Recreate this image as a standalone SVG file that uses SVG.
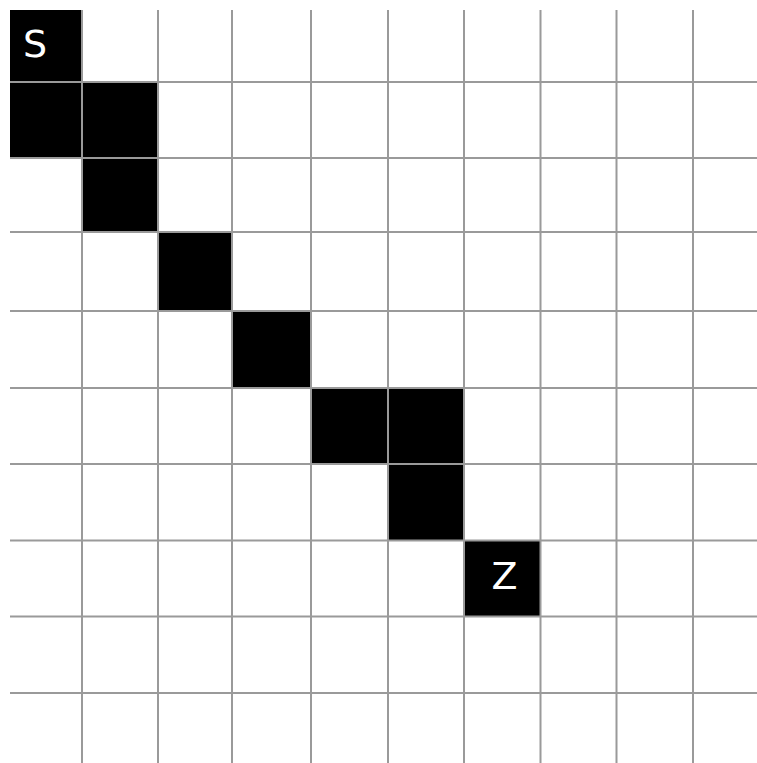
<svg xmlns="http://www.w3.org/2000/svg" width="757" height="763" viewBox="0 0 757 763">
<style>
.cell{fill:#000}
.grid line{stroke:#9a9a9a;stroke-width:2}
.lbl{fill:#fff;font-family:"DejaVu Sans",sans-serif;font-size:38px;text-anchor:middle}
</style>
<rect x="0" y="0" width="757" height="763" fill="#fff"/>
<g id="cells">
<g id="cell-S"><rect class="cell" x="10" y="10" width="72" height="72"/><text class="lbl" x="35" y="56.5">S</text></g>
<g id="cell-1-0"><rect class="cell" x="10" y="82" width="72" height="76"/></g>
<g id="cell-1-1"><rect class="cell" x="82" y="82" width="76" height="76"/></g>
<g id="cell-2-1"><rect class="cell" x="82" y="158" width="76" height="74"/></g>
<g id="cell-3-2"><rect class="cell" x="158" y="232" width="74" height="79"/></g>
<g id="cell-4-3"><rect class="cell" x="232" y="311" width="79" height="77"/></g>
<g id="cell-5-4"><rect class="cell" x="311" y="388" width="77" height="76"/></g>
<g id="cell-5-5"><rect class="cell" x="388" y="388" width="76" height="76"/></g>
<g id="cell-6-5"><rect class="cell" x="388" y="464" width="76" height="76.5"/></g>
<g id="cell-Z"><rect class="cell" x="464" y="540.5" width="76.5" height="76"/><text class="lbl" x="504.5" y="589">Z</text></g>
</g>
<g id="connectors" class="grid">
<line x1="82" y1="10" x2="82" y2="763"/>
<line x1="158" y1="10" x2="158" y2="763"/>
<line x1="232" y1="10" x2="232" y2="763"/>
<line x1="311" y1="10" x2="311" y2="763"/>
<line x1="388" y1="10" x2="388" y2="763"/>
<line x1="464" y1="10" x2="464" y2="763"/>
<line x1="540.5" y1="10" x2="540.5" y2="763"/>
<line x1="616.5" y1="10" x2="616.5" y2="763"/>
<line x1="693" y1="10" x2="693" y2="763"/>
<line x1="10" y1="82" x2="757" y2="82"/>
<line x1="10" y1="158" x2="757" y2="158"/>
<line x1="10" y1="232" x2="757" y2="232"/>
<line x1="10" y1="311" x2="757" y2="311"/>
<line x1="10" y1="388" x2="757" y2="388"/>
<line x1="10" y1="464" x2="757" y2="464"/>
<line x1="10" y1="540.5" x2="757" y2="540.5"/>
<line x1="10" y1="616.5" x2="757" y2="616.5"/>
<line x1="10" y1="693" x2="757" y2="693"/>
</g>
</svg>
